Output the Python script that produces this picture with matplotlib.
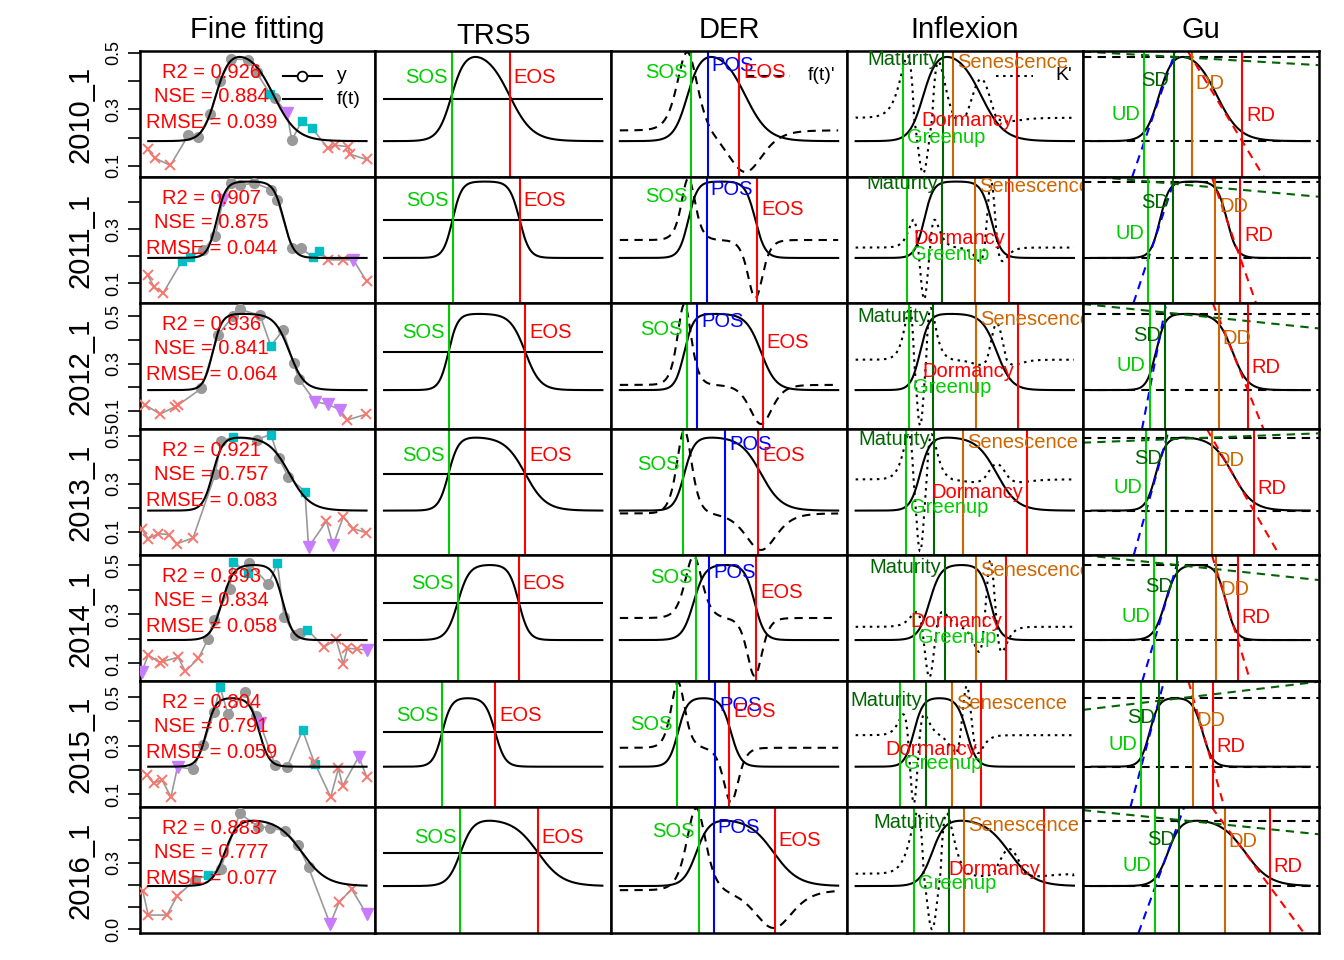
import numpy as np
import matplotlib
matplotlib.use('Agg')
import matplotlib.pyplot as plt

plt.rcParams['font.family'] = ['Liberation Sans', 'DejaVu Sans']

# ---- values ----
years = ['2010_1', '2011_1', '2012_1', '2013_1', '2014_1', '2015_1', '2016_1']
titles = ['Fine fitting', 'TRS5', 'DER', 'Inflexion', 'Gu']

# observations: day of year, value and qc flag (o good, s marginal, v snow, x cloud)
t_2010 = [0, 12, 38, 68, 85, 105, 121, 140, 168, 182, 205, 213, 233, 241, 258, 275, 302, 313, 335, 338, 366]
y_2010 = [0.159, 0.128, 0.102, 0.209, 0.203, 0.283, 0.401, 0.479, 0.476, 0.431, 0.354, 0.340, 0.286, 0.191,
          0.260, 0.233, 0.162, 0.174, 0.168, 0.142, 0.123]
qc_2010 = 'xxxooooooosovossxxxxx'

t_2011 = [0, 11, 26, 57, 71, 93, 113, 126, 140, 154, 178, 207, 217, 241, 256, 277, 287, 302, 327, 344, 366]
y_2011 = [0.129, 0.085, 0.063, 0.180, 0.196, 0.223, 0.275, 0.407, 0.471, 0.462, 0.471, 0.446, 0.407, 0.229,
          0.229, 0.196, 0.220, 0.186, 0.186, 0.186, 0.106]
qc_2011 = 'xxxssoovooooooossxxvx'

t_2012 = [-4, 21, 46, 51, 90, 118, 143, 154, 188, 206, 226, 244, 253, 280, 302, 322, 334, 365]
y_2012 = [0.125, 0.087, 0.118, 0.125, 0.195, 0.422, 0.500, 0.528, 0.503, 0.374, 0.440, 0.303, 0.234, 0.139,
          0.128, 0.104, 0.062, 0.086]
qc_2012 = 'xxxxooooosooovvvxx'

t_2013 = [-10, 1, 18, 35, 49, 76, 113, 123, 142, 182, 206, 219, 235, 263, 269, 299, 310, 327, 344, 365]
y_2013 = [0.114, 0.072, 0.093, 0.089, 0.051, 0.075, 0.341, 0.478, 0.494, 0.485, 0.506, 0.408, 0.331, 0.268,
          0.037, 0.145, 0.044, 0.163, 0.114, 0.097]
qc_2013 = 'xxxxxxoososoosvxvxxx'

t_2014 = [-10, 1, 21, 26, 51, 63, 85, 101, 111, 137, 143, 168, 170, 202, 217, 228, 246, 255, 267, 295, 315,
          327, 334, 350, 366]
y_2014 = [0.062, 0.134, 0.100, 0.107, 0.124, 0.066, 0.120, 0.198, 0.276, 0.401, 0.514, 0.466, 0.507, 0.421,
          0.507, 0.290, 0.215, 0.222, 0.236, 0.165, 0.198, 0.097, 0.161, 0.157, 0.154]
qc_2014 = 'vxxxxxxooossoosooosxxxxxv'

t_2015 = [-1, 10, 24, 39, 50, 76, 93, 111, 121, 134, 163, 181, 188, 213, 233, 259, 278, 280, 306, 319, 326,
          353, 366]
y_2015 = [0.179, 0.145, 0.159, 0.088, 0.213, 0.202, 0.302, 0.439, 0.541, 0.432, 0.520, 0.421, 0.391, 0.220,
          0.211, 0.363, 0.234, 0.224, 0.088, 0.206, 0.134, 0.254, 0.172]
qc_2015 = 'xxxxvooosooovoosxsxxxvx'

t_2016 = [-8, 1, 32, 49, 79, 101, 122, 154, 185, 204, 230, 252, 269, 305, 320, 341, 366]
y_2016 = [0.172, 0.063, 0.063, 0.147, 0.222, 0.243, 0.273, 0.522, 0.462, 0.458, 0.443, 0.378, 0.278, 0.023,
          0.120, 0.180, 0.068]
qc_2016 = 'xxxxosooooooovxxv'

t_obs = [t_2010, t_2011, t_2012, t_2013, t_2014, t_2015, t_2016]
y_obs = [y_2010, y_2011, y_2012, y_2013, y_2014, y_2015, y_2016]
qc_obs = [qc_2010, qc_2011, qc_2012, qc_2013, qc_2014, qc_2015, qc_2016]

# goodness of fit
r2 = [0.926, 0.907, 0.936, 0.921, 0.893, 0.804, 0.883]
nse = [0.884, 0.875, 0.841, 0.757, 0.834, 0.791, 0.777]
rmse = [0.039, 0.044, 0.064, 0.083, 0.058, 0.059, 0.077]

# fitted double logistic: base, peak, mid points and rates
fit_mn = [0.188, 0.193, 0.188, 0.189, 0.194, 0.213, 0.194]
fit_mx = [0.486, 0.476, 0.509, 0.493, 0.500, 0.495, 0.489]
fit_sos = [113.8, 115.5, 108.8, 108.8, 124.3, 98.2, 128.8]
fit_eos = [210.8, 227.5, 237.0, 237.0, 226.3, 186.8, 258.0]
fit_rsp = [0.088, 0.13, 0.13, 0.12, 0.105, 0.13, 0.094]
fit_rau = [0.052, 0.12, 0.08, 0.058, 0.12, 0.12, 0.048]

# phenology dates (day of year) of each method
trs_sos = [113.8, 115.5, 108.8, 108.8, 124.3, 98.2, 128.8]
trs_eos = [210.8, 227.5, 237.0, 237.0, 226.3, 186.8, 258.0]
der_sos = [120.3, 120.3, 113.0, 107.4, 128.7, 96.2, 133.0]
der_pos = [147.6, 146.4, 130.3, 177.2, 150.9, 160.9, 158.1]
der_eos = [201.0, 230.6, 240.0, 232.8, 229.0, 184.3, 259.6]
inf_greenup = [79.4, 86.5, 91.0, 85.5, 98.2, 76.0, 99.4]
inf_maturity = [146.7, 145.7, 130.0, 131.7, 150.7, 119.0, 156.8]
inf_senescence = [164.6, 200.9, 202.6, 180.2, 202.6, 161.8, 181.8]
inf_dormancy = [271.1, 258.2, 272.1, 287.1, 252.7, 210.9, 315.6]
gu_ud = [89.7, 96.4, 98.1, 92.6, 106.4, 84.2, 108.1]
gu_sd = [138.2, 137.7, 123.2, 126.0, 143.7, 113.6, 148.2]
gu_dd = [168.8, 208.4, 213.9, 202.2, 209.6, 170.5, 223.5]
gu_rd = [253.0, 249.7, 262.4, 272.4, 245.7, 203.9, 298.7]
# Gu plateau line: value at left and right edge of the panel
gu_plat_l = [0.505, 0.498, 0.551, 0.472, 0.541, 0.447, 0.537]
gu_plat_r = [0.457, 0.420, 0.448, 0.511, 0.439, 0.563, 0.428]

# ---- layout ----
W, H = 1344, 960
PANEL_X = [139.5, 375.3, 611.1, 846.9, 1082.7]
PANEL_W = 235.8
PANEL_TOP = 51
PANEL_H = 126
XLIM = (-13.6, 380.6)
YLIM = [(0.061, 0.507), (0.026, 0.493), (0.024, 0.555), (0.004, 0.529),
        (0.027, 0.541), (0.047, 0.566), (-0.018, 0.551)]
YTICK_LABELS = [[0.1, 0.3, 0.5], [0.1, 0.3], [0.1, 0.3, 0.5], [0.1, 0.3, 0.5],
                [0.1, 0.3, 0.5], [0.1, 0.3, 0.5], [0.0, 0.3]]
# heights of the DER labels (share of amplitude)
DER_SOS_H = [0.82, 0.80, 0.79, 0.63, 0.83, 0.62, 0.83]
DER_EOS_H = [0.81, 0.64, 0.62, 0.75, 0.64, 0.80, 0.70]
# where the zero of f(t)' and K' sits inside each panel (share of height)
DER_ZERO = [0.37, 0.50, 0.35, 0.33, 0.50, 0.47, 0.34]
K_ZERO = [0.47, 0.44, 0.55, 0.60, 0.43, 0.57, 0.47]

GAP = 4 * (XLIM[1] - XLIM[0]) / PANEL_W   # 4 px in days
FS = 14.5
GREEN = '#00CD00'
DKGREEN = '#006400'
ORANGE = '#CD6600'
QC_STYLE = {'o': dict(marker='o', color='#999999', ms=7),
            's': dict(marker='s', color='#00BFC4', ms=5.5),
            'v': dict(marker='v', color='#C77CFF', ms=8),
            'x': dict(marker='x', color='#F8766D', ms=7, mew=1.4)}
DASH = (0, (4, 3))
DOT = (0, (1.2, 2.2))

tt = np.linspace(1, 366, 700)


def fitted(i):
    g = 1 / (1 + np.exp(-fit_rsp[i] * (tt - fit_sos[i]))) + 1 / (1 + np.exp(fit_rau[i] * (tt - fit_eos[i]))) - 1
    g = (g - g.min()) / (g.max() - g.min())
    return fit_mn[i] + (fit_mx[i] - fit_mn[i]) * g


def rescale(v, i, lo, zero, hi):
    # put an auxiliary curve inside the y range of the row, zero kept at a given height
    y0, y1 = YLIM[i]
    pos = np.where(v > 0, v / v.max(), 0) * (hi - zero)
    neg = np.where(v < 0, v / -v.min(), 0) * (zero - lo)
    return y0 + (y1 - y0) * (zero + pos + neg)


def level(i, frac):
    return fit_mn[i] + frac * (fit_mx[i] - fit_mn[i])


def label(ax, x, y, s, color, side):
    # side 'l' -> text ends left of x, 'r' -> text starts right of x
    if side == 'l':
        ax.text(x - GAP, y, s, color=color, fontsize=FS, ha='right', va='center', clip_on=True)
    else:
        ax.text(x + GAP, y, s, color=color, fontsize=FS, ha='left', va='center', clip_on=True)


fig = plt.figure(figsize=(W / 100, H / 100), dpi=100)

for i in range(len(years)):
    f = fitted(i)
    axes = []
    for j in range(5):
        top = PANEL_TOP + i * PANEL_H
        ax = fig.add_axes([PANEL_X[j] / W, 1 - (top + PANEL_H) / H, PANEL_W / W, PANEL_H / H])
        ax.set_xlim(XLIM)
        ax.set_ylim(YLIM[i])
        ax.set_xticks([])
        ax.set_yticks([])
        for sp in ax.spines.values():
            sp.set_linewidth(1.8)
        axes.append(ax)

    # fine fitting
    ax = axes[0]
    t = np.array(t_obs[i], dtype=float)
    y = np.array(y_obs[i])
    qc = np.array(list(qc_obs[i]))
    ax.plot(t, y, color='#999999', lw=1.2, zorder=2)
    for k, st in QC_STYLE.items():
        m = qc == k
        ax.plot(t[m], y[m], ls='none', zorder=3, **st)
    ax.plot(tt, f, color='k', lw=1.5, zorder=4)
    ax.text(0.305, 0.829, f'R2 = {r2[i]:.3f}', transform=ax.transAxes, color='red', fontsize=FS,
            ha='center', va='center', zorder=5)
    ax.text(0.305, 0.635, f'NSE = {nse[i]:.3f}', transform=ax.transAxes, color='red', fontsize=FS,
            ha='center', va='center', zorder=5)
    ax.text(0.305, 0.429, f'RMSE = {rmse[i]:.3f}', transform=ax.transAxes, color='red', fontsize=FS,
            ha='center', va='center', zorder=5)
    ticks = np.round(np.arange(-0.1, 0.61, 0.1), 1)
    ticks = ticks[(ticks >= YLIM[i][0]) & (ticks <= YLIM[i][1])]
    ax.set_yticks(ticks)
    ax.set_yticklabels([f'{v:.1f}' if v in YTICK_LABELS[i] else '' for v in ticks])
    ax.tick_params(axis='y', length=8.5, width=1.2, pad=4, labelsize=13, labelrotation=90)
    for lab in ax.get_yticklabels():
        lab.set_va('center')
    if i == 0:
        ax.plot([0.607, 0.773], [0.802, 0.802], transform=ax.transAxes, color='k', lw=1.5)
        ax.plot([0.69], [0.802], transform=ax.transAxes, marker='o', mfc='white', mec='k', ms=7, mew=1.3)
        ax.plot([0.607, 0.773], [0.617, 0.617], transform=ax.transAxes, color='k', lw=1.5)
        ax.text(0.836, 0.802, 'y', transform=ax.transAxes, fontsize=14, va='center')
        ax.text(0.836, 0.617, 'f(t)', transform=ax.transAxes, fontsize=14, va='center')

    # TRS5
    ax = axes[1]
    ax.plot(tt, f, color='k', lw=1.5)
    ax.plot([tt[0], tt[-1]], [level(i, 0.5)] * 2, color='k', lw=1.5)
    ax.axvline(trs_sos[i], color=GREEN, lw=1.5)
    ax.axvline(trs_eos[i], color='red', lw=1.5)
    label(ax, trs_sos[i], level(i, 0.75), 'SOS', GREEN, 'l')
    label(ax, trs_eos[i], level(i, 0.75), 'EOS', 'red', 'r')

    # DER
    ax = axes[2]
    ax.plot(tt, f, color='k', lw=1.5)
    ax.plot(tt, rescale(np.gradient(f, tt), i, 0.04, DER_ZERO[i], 0.99), color='k', lw=1.5, ls=DASH)
    ax.axvline(der_sos[i], color=GREEN, lw=1.5)
    ax.axvline(der_pos[i], color='blue', lw=1.5)
    ax.axvline(der_eos[i], color='red', lw=1.5)
    label(ax, der_sos[i], level(i, DER_SOS_H[i]), 'SOS', GREEN, 'l')
    label(ax, der_pos[i], level(i, 0.9), 'POS', 'blue', 'r')
    label(ax, der_eos[i], level(i, DER_EOS_H[i]), 'EOS', 'red', 'r')
    if i == 0:
        ax.plot([0.574, 0.758], [0.802, 0.802], transform=ax.transAxes, color='k', lw=1.5, ls=DASH)
        ax.text(0.834, 0.802, "f(t)'", transform=ax.transAxes, fontsize=14, va='center')

    # Inflexion: rate of change of curvature
    ax = axes[3]
    d1 = np.gradient(f, tt)
    d2 = np.gradient(d1, tt)
    kk = d2 / (1 + d1 ** 2) ** 1.5
    dk = np.gradient(kk, tt)
    ax.plot(tt, f, color='k', lw=1.5)
    ax.plot(tt, rescale(dk, i, 0.03, K_ZERO[i], 0.96), color='k', lw=1.5, ls=DOT)
    ax.axvline(inf_greenup[i], color=GREEN, lw=1.5)
    ax.axvline(inf_maturity[i], color=DKGREEN, lw=1.5)
    ax.axvline(inf_senescence[i], color=ORANGE, lw=1.5)
    ax.axvline(inf_dormancy[i], color='red', lw=1.5)
    label(ax, inf_maturity[i], level(i, 0.97), 'Maturity', DKGREEN, 'l')
    label(ax, inf_senescence[i], level(i, 0.93), 'Senescence', ORANGE, 'r')
    label(ax, inf_dormancy[i], level(i, 0.25), 'Dormancy', 'red', 'l')
    label(ax, inf_greenup[i], level(i, 0.04), 'Greenup', GREEN, 'r')
    if i == 0:
        ax.plot([0.634, 0.788], [0.802, 0.802], transform=ax.transAxes, color='k', lw=1.5, ls=DOT)
        ax.text(0.882, 0.802, "K'", transform=ax.transAxes, fontsize=14, va='center')

    # Gu
    ax = axes[4]
    ax.plot(tt, f, color='k', lw=1.5)
    ax.axhline(fit_mn[i], color='k', lw=1.5, ls=DASH)
    ax.axhline(fit_mx[i], color='k', lw=1.5, ls=DASH)
    plat = lambda x: gu_plat_l[i] + (gu_plat_r[i] - gu_plat_l[i]) * (x - XLIM[0]) / (XLIM[1] - XLIM[0])
    ax.axline((XLIM[0], gu_plat_l[i]), (XLIM[1], gu_plat_r[i]), color=DKGREEN, lw=1.5, ls=DASH)
    ax.axline((gu_ud[i], fit_mn[i]), (gu_sd[i], plat(gu_sd[i])), color='blue', lw=1.5, ls=DASH)
    ax.axline((gu_dd[i], plat(gu_dd[i])), (gu_rd[i], fit_mn[i]), color='red', lw=1.5, ls=DASH)
    ax.axvline(gu_ud[i], color=GREEN, lw=1.5)
    ax.axvline(gu_sd[i], color=DKGREEN, lw=1.5)
    ax.axvline(gu_dd[i], color=ORANGE, lw=1.5)
    ax.axvline(gu_rd[i], color='red', lw=1.5)
    label(ax, gu_ud[i], level(i, 0.32), 'UD', GREEN, 'l')
    label(ax, gu_sd[i], level(i, 0.72), 'SD', DKGREEN, 'l')
    label(ax, gu_dd[i], level(i, 0.68), 'DD', ORANGE, 'r')
    label(ax, gu_rd[i], level(i, 0.30), 'RD', 'red', 'r')

    # row label
    fig.text(80 / W, 1 - (PANEL_TOP + (i + 0.5) * PANEL_H) / H, years[i], rotation=90,
             fontsize=21, ha='center', va='center')

for j, name in enumerate(titles):
    dy = 6 if name == 'TRS5' else 0
    fig.text((PANEL_X[j] + PANEL_W / 2) / W, 1 - (30 + dy) / H, name, fontsize=21, ha='center', va='center')

fig.savefig('out.png', dpi=100)
